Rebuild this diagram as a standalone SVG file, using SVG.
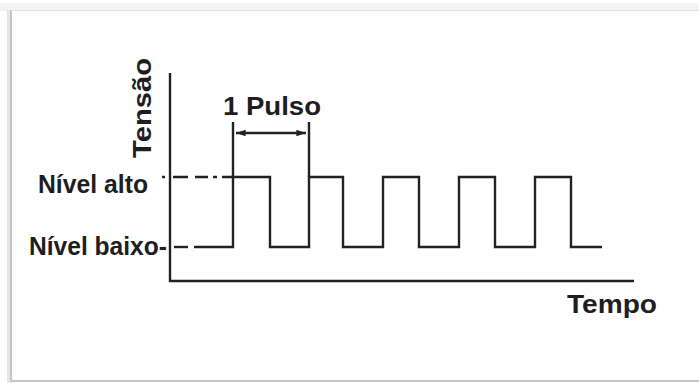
<svg xmlns="http://www.w3.org/2000/svg" width="699" height="383" viewBox="0 0 699 383">
<style>
.ln{fill:none;stroke:#222;stroke-width:2.4;stroke-linecap:butt}
.tx{font-family:"Liberation Sans",Arial,sans-serif;font-weight:bold;fill:#1e1e1e;font-size:25px}
</style>
<defs>
<marker id="ah" viewBox="0 0 10 10" refX="10" refY="5" markerWidth="4" markerHeight="4" orient="auto-start-reverse">
<path d="M0,1.5 L10,5 L0,8.5 z" fill="#222"/>
</marker>
</defs>
<rect x="0" y="0" width="699" height="383" fill="#ffffff"/>
<g id="frame">
<rect x="0" y="3" width="699" height="8" fill="#f4f4f4"/>
<rect x="7" y="10" width="5" height="373" fill="#e6e6e6"/>
<line x1="11" y1="10" x2="11" y2="381" stroke="#b8b8b8" stroke-width="1.5"/>
<line x1="11" y1="10.5" x2="699" y2="10.5" stroke="#e2e2e2" stroke-width="1"/>
<line x1="11" y1="381" x2="699" y2="381" stroke="#b0b0b0" stroke-width="1.5"/>
</g>
<g id="axes">
<path class="ln" d="M170,73 V281 H634"/>
</g>
<g id="connectors">
<path class="ln" d="M194,247 H233 V177 H270 V247 H309 V177 H343 V247 H383 V177 H419 V247 H459 V177 H495 V247 H535 V177 H571 V247 H602"/>
<path class="ln" d="M162,177 H165 M173,177 H188 M195,177 H208 M213,177 H217 M222,177 H233"/>
<path class="ln" d="M174,247 H188"/>
<path class="ln" d="M233,122 V177 M309,122 V177"/>
<line class="ln" x1="236" y1="133" x2="306" y2="133" stroke-width="2" marker-start="url(#ah)" marker-end="url(#ah)"/>
</g>
<g id="labels">
<text class="tx" x="38" y="193" textLength="110" lengthAdjust="spacingAndGlyphs">Nível alto</text>
<text class="tx" x="29" y="255" textLength="138" lengthAdjust="spacingAndGlyphs">Nível baixo-</text>
<text class="tx" x="223" y="115" font-size="24" textLength="98" lengthAdjust="spacingAndGlyphs">1 Pulso</text>
<text class="tx" x="0" y="0" font-size="27" transform="translate(151,158) rotate(-90)" textLength="100" lengthAdjust="spacingAndGlyphs">Tensão</text>
<text class="tx" x="567" y="313" font-size="26" textLength="90" lengthAdjust="spacingAndGlyphs">Tempo</text>
</g>
</svg>
